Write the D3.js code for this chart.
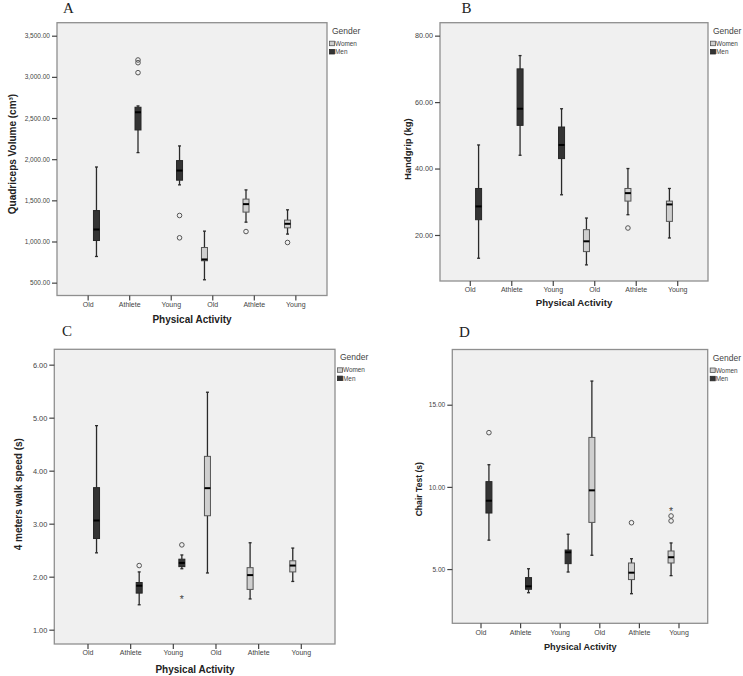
<!DOCTYPE html>
<html>
<head>
<meta charset="utf-8">
<script src="https://cdn.jsdelivr.net/npm/d3@7"></script>
<style>
  html, body { margin: 0; padding: 0; background: #fff; }
  svg { display: block; }
</style>
</head>
<body>
<svg id="chart" width="743" height="676"></svg>
<script>
// ---------------- DATA ----------------
const categories = ["Old", "Athlete", "Young", "Old", "Athlete", "Young"];
const genders = ["Men", "Men", "Men", "Women", "Women", "Women"];
const legendGenders = ["Women", "Men"];

// box stats: [lower whisker, Q1, median, Q3, upper whisker]
const quadStats = [[818, 1012, 1146, 1376, 1905], [2080, 2355, 2570, 2631, 2647], [1688, 1745, 1862, 1983, 2161],
                   [535, 766, 782, 927, 1126], [1235, 1357, 1454, 1515, 1627], [1090, 1166, 1215, 1260, 1385]];
const quadOutliers = [[], [3205, 3172, 3051], [1316, 1045], [], [1121], [988]];
const quadExtremes = [[], [], [], [], [], []];
const quadTicks = [500, 1000, 1500, 2000, 2500, 3000, 3500];

const gripStats = [[13.0, 24.6, 28.6, 34.0, 47.1], [44, 53, 58, 70, 74], [32.1, 43, 47.1, 52.5, 58],
                   [11.0, 15.0, 18.1, 21.6, 25.1], [26.1, 30.2, 32.6, 34, 40], [19.1, 24.1, 29.2, 30.2, 34]];
const gripOutliers = [[], [], [], [], [22.1], []];
const gripExtremes = [[], [], [], [], [], []];
const gripTicks = [20, 40, 60, 80];

const walkStats = [[2.45, 2.72, 3.06, 3.68, 4.85], [1.47, 1.69, 1.83, 1.89, 2.09], [2.15, 2.19, 2.26, 2.33, 2.41],
                   [2.07, 3.15, 3.67, 4.27, 5.48], [1.58, 1.76, 2.03, 2.17, 2.64], [1.91, 2.09, 2.21, 2.30, 2.54]];
const walkOutliers = [[], [2.21], [2.60], [], [], []];
const walkExtremes = [[], [], [1.59], [], [], []];
const walkTicks = [1, 2, 3, 4, 5, 6];

const chairStats = [[6.76, 8.41, 9.16, 10.32, 11.35], [3.56, 3.77, 3.95, 4.48, 5.02], [4.82, 5.33, 6.02, 6.16, 7.12],
                    [5.84, 7.84, 9.79, 13.01, 16.44], [3.50, 4.36, 4.78, 5.37, 5.63], [4.60, 5.37, 5.72, 6.10, 6.59]];
const chairOutliers = [[13.30], [], [], [], [7.82], [7.93, 8.23]];
const chairExtremes = [[], [], [], [], [], [8.57]];
const chairTicks = [5, 10, 15];

// ---------------- LAYOUT ----------------
const panels = [
  { letter: "A", lx: 63, ly: 12.5, L: 57, R: 327, T: 22.7, B: 295.5, dom: [344, 3658], po: 0.25,
    stats: quadStats, outl: quadOutliers, ext: quadExtremes, ticks: quadTicks,
    ytitle: "Quadriceps Volume (cm\u00B3)", ytx: 12.5, yty: 154, ytfs: 10, ytickfs: 6.5,
    xtx: 192, xty: 322.7, xtfs: 10 },
  { letter: "B", lx: 461.5, ly: 12.5, L: 440, R: 708, T: 22.7, B: 281, dom: [6.15, 83.9], po: 0.23,
    stats: gripStats, outl: gripOutliers, ext: gripExtremes, ticks: gripTicks,
    ytitle: "Handgrip (kg)", ytx: 407.5, yty: 149.2, ytfs: 9.5, ytickfs: 7.2,
    xtx: 574, xty: 306, xtfs: 9.7 },
  { letter: "C", lx: 62, ly: 336, L: 54.3, R: 335, T: 349.3, B: 644, dom: [0.73, 6.29], po: 0.29,
    stats: walkStats, outl: walkOutliers, ext: walkExtremes, ticks: walkTicks,
    ytitle: "4 meters walk speed (s)", ytx: 18.3, yty: 494.2, ytfs: 10, ytickfs: 7.4,
    xtx: 195, xty: 673.3, xtfs: 10 },
  { letter: "D", lx: 459, ly: 337, L: 452.3, R: 707.7, T: 349.5, B: 623.3, dom: [1.70, 18.36], po: 0.225,
    stats: chairStats, outl: chairOutliers, ext: chairExtremes, ticks: chairTicks,
    ytitle: "Chair Test (s)", ytx: 419, yty: 489.2, ytfs: 8.6, ytickfs: 6.6,
    xtx: 580.3, xty: 650, xtfs: 9.2 }
];

const FONT = "'Liberation Sans', Arial, sans-serif";
const fill = { Men: "#343434", Women: "#cfcfcf" };
const fmt = d3.format(",.2f");
const svg = d3.select("#chart");

panels.forEach(p => {
  const g = svg.append("g");

  // panel letter
  g.append("text").attr("x", p.lx).attr("y", p.ly)
    .attr("font-family", "'Liberation Serif', 'Times New Roman', serif")
    .attr("font-size", 15).attr("fill", "#222").text(p.letter);

  // plot area
  g.append("rect").attr("x", p.L).attr("y", p.T)
    .attr("width", p.R - p.L).attr("height", p.B - p.T)
    .attr("fill", "#f0f0f0").attr("stroke", "#8f8f8f").attr("stroke-width", 1.3);

  const x = d3.scaleBand().domain(d3.range(categories.length)).range([p.L, p.R])
    .paddingOuter(p.po).paddingInner(0);
  const sub = d3.scaleBand().domain(legendGenders).range([0, x.bandwidth()])
    .paddingOuter(0.25).paddingInner(0);
  const y = d3.scaleLinear().domain(p.dom).range([p.B, p.T]);

  // axes
  const ya = g.append("g").attr("transform", `translate(${p.L},0)`)
    .call(d3.axisLeft(y).tickValues(p.ticks).tickFormat(fmt).tickSize(5).tickPadding(2));
  ya.select(".domain").remove();
  ya.selectAll("line").attr("stroke", "#444").attr("stroke-width", 1.2);
  ya.selectAll("text").attr("font-family", FONT).attr("font-size", p.ytickfs).attr("fill", "#444");

  const xa = g.append("g").attr("transform", `translate(0,${p.B})`)
    .call(d3.axisBottom(x).tickFormat(i => categories[i]).tickSize(5).tickPadding(1.5));
  xa.select(".domain").remove();
  xa.selectAll("line").attr("stroke", "#444").attr("stroke-width", 1.2);
  xa.selectAll("text").attr("font-family", FONT).attr("font-size", 7).attr("fill", "#444");

  // titles
  g.append("text").attr("x", p.xtx).attr("y", p.xty).attr("text-anchor", "middle")
    .attr("font-family", FONT).attr("font-weight", "bold").attr("font-size", p.xtfs)
    .attr("fill", "#222").text("Physical Activity");
  g.append("text")
    .attr("transform", `translate(${p.ytx + p.ytfs * 0.36},${p.yty}) rotate(-90)`)
    .attr("text-anchor", "middle")
    .attr("font-family", FONT).attr("font-weight", "bold").attr("font-size", p.ytfs)
    .attr("fill", "#222").text(p.ytitle);

  // boxes
  const bw = 6, cap = 3;
  p.stats.forEach((s, i) => {
    const gen = genders[i];
    const cx = x(i) + sub(gen) + sub.bandwidth() / 2;
    const bg = g.append("g");
    // whiskers
    bg.append("line").attr("x1", cx).attr("x2", cx).attr("y1", y(s[0])).attr("y2", y(s[1]))
      .attr("stroke", "#2a2a2a").attr("stroke-width", 1.3);
    bg.append("line").attr("x1", cx).attr("x2", cx).attr("y1", y(s[3])).attr("y2", y(s[4]))
      .attr("stroke", "#2a2a2a").attr("stroke-width", 1.3);
    [s[0], s[4]].forEach(v => {
      bg.append("line").attr("x1", cx - cap / 2).attr("x2", cx + cap / 2)
        .attr("y1", y(v)).attr("y2", y(v)).attr("stroke", "#2a2a2a").attr("stroke-width", 1.3);
    });
    // box
    bg.append("rect").attr("x", cx - bw / 2).attr("y", y(s[3]))
      .attr("width", bw).attr("height", Math.max(1, y(s[1]) - y(s[3])))
      .attr("fill", fill[gen]).attr("stroke", gen === "Men" ? "#262626" : "#555")
      .attr("stroke-width", 1);
    // median
    bg.append("line").attr("x1", cx - bw / 2).attr("x2", cx + bw / 2)
      .attr("y1", y(s[2])).attr("y2", y(s[2]))
      .attr("stroke", "#000").attr("stroke-width", 2);
    // outliers
    p.outl[i].forEach(v => {
      bg.append("circle").attr("cx", cx).attr("cy", y(v)).attr("r", 2.3)
        .attr("fill", "none").attr("stroke", "#555").attr("stroke-width", 1);
    });
    // extremes
    p.ext[i].forEach(v => {
      bg.append("text").attr("x", cx).attr("y", y(v) + 4.2).attr("text-anchor", "middle")
        .attr("font-family", FONT).attr("font-size", 10.5).attr("fill", "#444").text("*");
    });
  });

  // legend
  const lg = g.append("g");
  lg.append("text").attr("x", p.R + 5).attr("y", p.T + 11)
    .attr("font-family", FONT).attr("font-size", 8.5).attr("fill", "#444").text("Gender");
  legendGenders.forEach((gen, k) => {
    const yy = p.T + 18.5 + k * 8.3;
    lg.append("rect").attr("x", p.R + 2.5).attr("y", yy).attr("width", 5).attr("height", 4.5)
      .attr("fill", fill[gen]).attr("stroke", gen === "Men" ? "#262626" : "#555").attr("stroke-width", 0.8);
    lg.append("text").attr("x", p.R + 8).attr("y", yy + 4.5)
      .attr("font-family", FONT).attr("font-size", 6.4).attr("fill", "#444").text(gen);
  });
});
</script>
</body>
</html>
